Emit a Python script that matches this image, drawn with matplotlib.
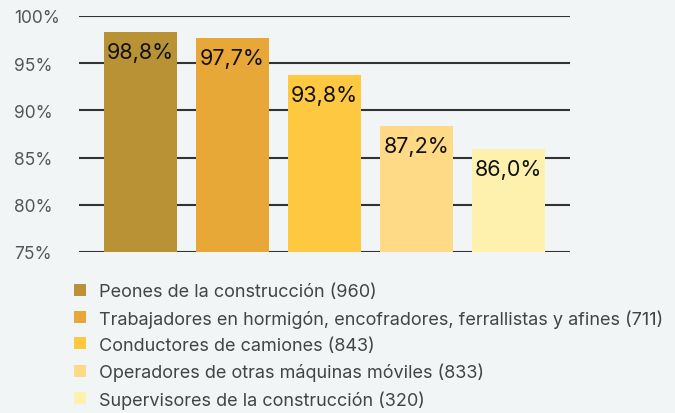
import matplotlib.pyplot as plt
from matplotlib.patches import Patch

# ---------- Datos ----------
categorias = [
    "Peones de la construcción (960)",
    "Trabajadores en hormigón, encofradores, ferrallistas y afines (711)",
    "Conductores de camiones (843)",
    "Operadores de otras máquinas móviles (833)",
    "Supervisores de la construcción (320)",
]
# altura de las barras tal como se ven en la imagen
alturas = [98.3, 97.7, 93.8, 88.4, 85.9]
etiquetas = ["98,8%", "97,7%", "93,8%", "87,2%", "86,0%"]
colores = ["#b89234", "#e8a838", "#fec841", "#fed986", "#fdf1ad"]
yticks = [75, 80, 85, 90, 95, 100]

fondo = "#f2f5f6"
plt.rcParams["font.family"] = ["Inter", "DejaVu Sans"]

fig = plt.figure(figsize=(6.75, 4.14), dpi=100, facecolor=fondo)
ax = fig.add_axes([79 / 675, 1 - 253 / 414, (570 - 79) / 675, 236 / 414])
ax.set_facecolor(fondo)

x = range(len(alturas))
ax.bar(x, [v - 75 for v in alturas], bottom=75, width=0.79, color=colores, zorder=3)

for xi, v, t in zip(x, alturas, etiquetas):
    ax.annotate(t, (xi, v), xytext=(0, -14.5), textcoords="offset points",
                ha="center", va="center", fontsize=15.5, color="#111111", zorder=4)

ax.set_xlim(-0.668, 4.668)
ax.set_ylim(75, 100)
ax.set_yticks(yticks)
ax.set_yticklabels([f"{t}%" for t in yticks])
ax.set_xticks([])
ax.tick_params(axis="y", length=0, pad=47, labelsize=12.5, labelcolor="#555555")
for lab in ax.get_yticklabels():
    lab.set_horizontalalignment("left")

ax.grid(axis="y", color="#333333", linewidth=1.5, zorder=1)
for s in ax.spines.values():
    s.set_visible(False)

handles = [Patch(facecolor=c, edgecolor="none") for c in colores]
fig.legend(handles, categorias, loc="upper left", bbox_to_anchor=(74 / 675, 1 - 284 / 414),
           frameon=False, fontsize=13, labelcolor="#444444", borderpad=0, borderaxespad=0,
           handlelength=0.65, handleheight=0.65, handletextpad=0.74, labelspacing=0.5)

fig.savefig("out.png", dpi=100, facecolor=fondo)
